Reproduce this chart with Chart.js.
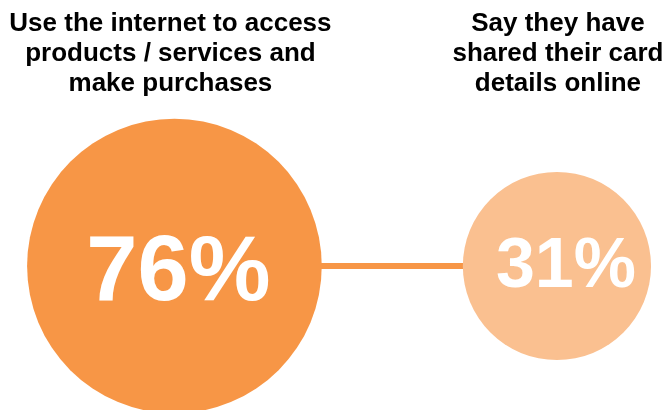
<!DOCTYPE html>
<html>
<head>
<meta charset="utf-8">
<script src="https://cdn.jsdelivr.net/npm/chart.js@4/dist/chart.umd.min.js"></script>
<style>
  html, body { margin: 0; padding: 0; background: #fff; }
  #wrap { width: 670px; height: 410px; }
</style>
</head>
<body>
<div id="wrap"><canvas id="c" width="670" height="410"></canvas></div>
<script>
// data
const titles = [
  ['Use the internet to access', 'products / services and', 'make purchases'],
  ['Say they have', 'shared their card', 'details online']
];
const values  = [76, 31];
const colors  = ['#F79646', '#FAC090'];

// bubble radius grows with the square root of the share
const points = values.map((v, i) => ({ x: i, y: 0, r: 16.9 * Math.sqrt(v) }));

// titles above + value labels inside circles
const labelPlugin = {
  id: 'labels',
  afterDatasetsDraw(chart) {
    const ctx = chart.ctx;
    const meta = chart.getDatasetMeta(1);
    const titleDx = [-4, 1];
    const valSize = [92, 70];
    const valDx   = [4, 9];
    const valDy   = [1, -4];
    ctx.save();
    ctx.textAlign = 'center';
    ctx.textBaseline = 'alphabetic';
    meta.data.forEach((el, i) => {
      const { x, y } = el.getProps(['x', 'y'], true);
      // title
      ctx.fillStyle = '#000';
      ctx.font = 'bold 26px "Liberation Sans", Arial, sans-serif';
      titles[i].forEach((line, j) => ctx.fillText(line, x + titleDx[i], 31 + j * 30));
      // value
      const size = valSize[i];
      ctx.fillStyle = '#fff';
      ctx.font = 'bold ' + size + 'px "Liberation Sans", Arial, sans-serif';
      ctx.fillText(values[i] + '%', x + valDx[i], y + valDy[i] + size * 0.716 / 2);
    });
    ctx.restore();
  }
};

new Chart(document.getElementById('c'), {
  data: {
    datasets: [
      {
        type: 'line',
        data: [{ x: 0, y: 0 }, { x: 1, y: 0 }],
        borderColor: '#F79646',
        borderWidth: 6,
        pointRadius: 0,
        clip: false,
        order: 2
      },
      {
        type: 'bubble',
        data: points,
        backgroundColor: colors,
        hoverBackgroundColor: colors,
        borderWidth: 0,
        hoverBorderWidth: 0,
        clip: false,
        order: 1
      }
    ]
  },
  options: {
    responsive: false,
    animation: false,
    events: [],
    layout: { padding: 0, autoPadding: false },
    plugins: { legend: { display: false }, tooltip: { enabled: false } },
    scales: {
      x: { type: 'linear', display: false, min: -0.456, max: 1.2956 },
      y: { type: 'linear', display: false, min: -0.3512, max: 0.6488 }
    }
  },
  plugins: [labelPlugin]
});
</script>
</body>
</html>
